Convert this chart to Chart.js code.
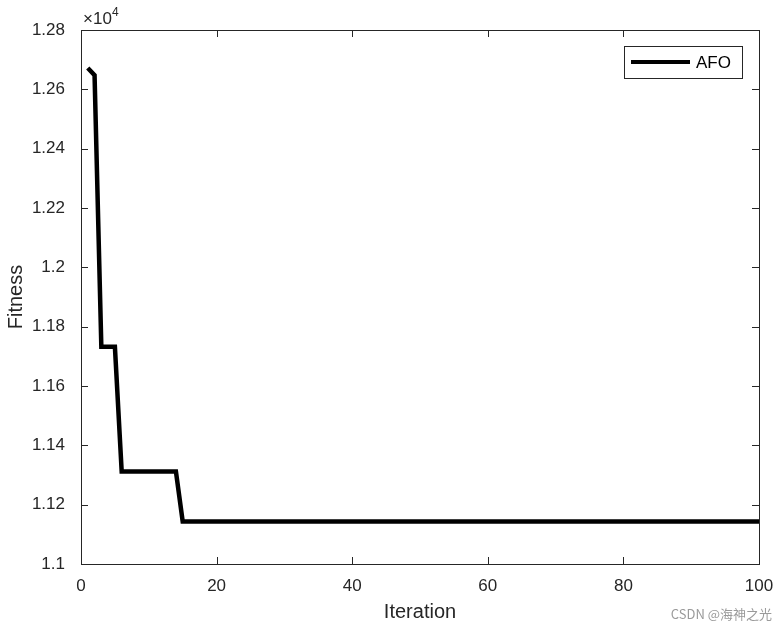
<!DOCTYPE html>
<html>
<head>
<meta charset="utf-8">
<script src="https://cdn.jsdelivr.net/npm/chart.js@4"></script>
<style>
  html, body { margin: 0; padding: 0; background: #fff; }
  #wrap { width: 778px; height: 628px; position: relative; }
</style>
</head>
<body>
<div id="wrap"><canvas id="c" width="778" height="628"></canvas></div>
<script>
// iteration -> best fitness (AFO)
const iterations = [];
for (let i = 1; i <= 100; i++) iterations.push(i);
const fitnessHead = [12672, 12648, 11732, 11732, 11732,
                     11312, 11312, 11312, 11312, 11312, 11312, 11312, 11312, 11312];
const fitnessTail = 11143; // flat from iteration 15 to 100
const fitness = iterations.map((it, i) => i < fitnessHead.length ? fitnessHead[i] : fitnessTail);
const xTicks = [0, 20, 40, 60, 80, 100];
const yTicks = [11000, 11200, 11400, 11600, 11800, 12000, 12200, 12400, 12600, 12800];

const FONT = '"Liberation Sans", Arial, sans-serif';

// MATLAB style box with inward ticks
const boxPlugin = {
  id: 'box',
  afterDraw(chart) {
    const { ctx, chartArea: a, scales } = chart;
    ctx.save();
    ctx.strokeStyle = '#262626';
    ctx.lineWidth = 1;
    ctx.strokeRect(a.left + 0.5, a.top + 0.5, a.right - a.left, a.bottom - a.top);
    const t = 7;
    ctx.beginPath();
    xTicks.forEach(v => {
      const x = Math.round(scales.x.getPixelForValue(v)) + 0.5;
      ctx.moveTo(x, a.bottom); ctx.lineTo(x, a.bottom - t);
      ctx.moveTo(x, a.top); ctx.lineTo(x, a.top + t);
    });
    yTicks.forEach(v => {
      const y = Math.round(scales.y.getPixelForValue(v)) + 0.5;
      ctx.moveTo(a.left, y); ctx.lineTo(a.left + t, y);
      ctx.moveTo(a.right, y); ctx.lineTo(a.right - t, y);
    });
    ctx.stroke();
    // exponent label
    ctx.fillStyle = '#262626';
    ctx.font = '17px ' + FONT;
    ctx.textBaseline = 'alphabetic';
    ctx.fillText('\u00d710', a.left + 2, a.top - 6);
    ctx.font = '12px ' + FONT;
    ctx.fillText('4', a.left + 31, a.top - 14);
    // legend box
    const lx = 624, ly = 46, lw = 118, lh = 32;
    ctx.fillStyle = '#fff';
    ctx.fillRect(lx, ly, lw, lh);
    ctx.strokeRect(lx + 0.5, ly + 0.5, lw, lh);
    ctx.strokeStyle = '#000';
    ctx.lineWidth = 4;
    ctx.beginPath(); ctx.moveTo(lx + 7, ly + 16); ctx.lineTo(lx + 66, ly + 16); ctx.stroke();
    ctx.fillStyle = '#000';
    ctx.font = '17px ' + FONT;
    ctx.textBaseline = 'middle';
    ctx.fillText('AFO', lx + 72, ly + 17);
    // watermark
    ctx.fillStyle = '#9a9a9a';
    ctx.font = '13px "Noto Sans CJK SC", ' + FONT;
    ctx.textAlign = 'right';
    ctx.fillText('CSDN @海神之光', 772, 614);
    ctx.restore();
  }
};

new Chart(document.getElementById('c'), {
  type: 'line',
  data: {
    datasets: [{
      label: 'AFO',
      data: iterations.map((it, i) => ({ x: it, y: fitness[i] })),
      borderColor: '#000',
      borderWidth: 4.5,
      pointRadius: 0,
      fill: false,
      tension: 0
    }]
  },
  options: {
    responsive: false,
    animation: false,
    layout: { padding: { top: 30, right: 19, left: 0, bottom: 0 } },
    plugins: { legend: { display: false }, tooltip: { enabled: false } },
    scales: {
      x: {
        type: 'linear', min: 0, max: 100,
        afterBuildTicks: s => { s.ticks = xTicks.map(v => ({ value: v })); },
        afterFit: s => { s.height = 64; },
        grid: { display: false },
        border: { display: false },
        ticks: { color: '#262626', font: { family: FONT, size: 17 }, padding: 4 },
        title: { display: true, text: 'Iteration', color: '#262626', font: { family: FONT, size: 20 }, padding: { top: 2 } }
      },
      y: {
        type: 'linear', min: 11000, max: 12800,
        afterBuildTicks: s => { s.ticks = yTicks.map(v => ({ value: v })); },
        afterFit: s => { s.width = 81; },
        grid: { display: false },
        border: { display: false },
        ticks: {
          color: '#262626', font: { family: FONT, size: 17 }, padding: 8,
          callback: v => String(+(v / 10000).toFixed(2))
        },
        title: { display: true, text: 'Fitness', color: '#262626', font: { family: FONT, size: 20 }, padding: { bottom: 0 } }
      }
    }
  },
  plugins: [boxPlugin]
});
</script>
</body>
</html>
